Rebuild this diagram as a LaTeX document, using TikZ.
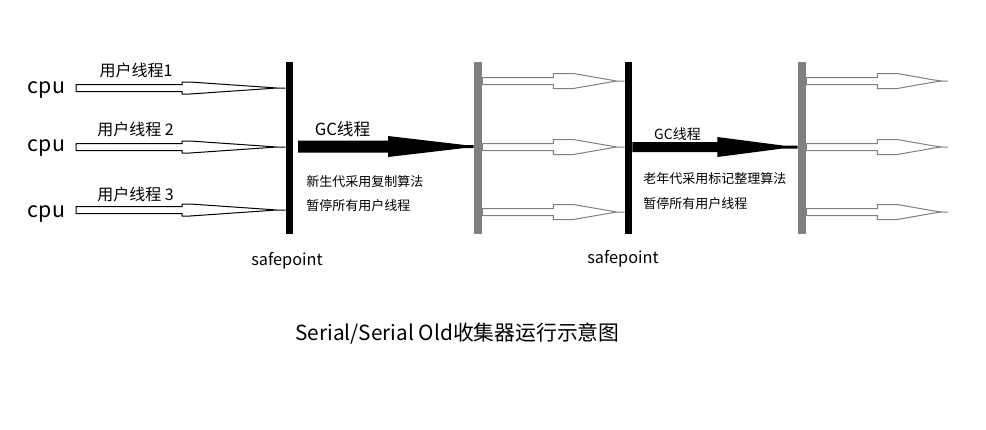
\documentclass[tikz,border=0pt]{standalone}
\usepackage{fontspec}
\setmainfont{Noto Sans CJK SC}
\usetikzlibrary{calc}
\definecolor{bargray}{HTML}{808080}

% #1 style, #2 start, #3 end, #4 head offset, #5 flat length, #6 shaft half, #7 head half, #8 taper end offset, #9 tip offset
\newcommand\hollowarrow[9]{%
  \draw[#1] ($(#2)+(0,-#6)$) -- ($(#2)+(#4,-#6)$) -- ($(#2)+(#4,-#7)$) -- ($(#2)+(#4+#5,-#7)$)
    -- ($(#3)+(-#8,-1.2)$) -- ($(#3)+(-#9,0)$) -- ($(#3)+(-#8,1.2)$)
    -- ($(#2)+(#4+#5,#7)$) -- ($(#2)+(#4,#7)$) -- ($(#2)+(#4,#6)$) -- ($(#2)+(0,#6)$) -- cycle
    ($(#3)+(-#9,0)$) -- (#3);
}
% #1 start, #2 end, #3 head offset, #4 shaft half, #5 head half, #6 taper end offset
\newcommand\gcarrow[6]{%
  \fill ($(#1)+(0,-#4)$) -- ($(#1)+(#3,-#4)$) -- ($(#1)+(#3,-#5)$) -- ($(#2)+(-#6,-1.5)$)
    -- ($(#2)+(0,-1.5)$) -- ($(#2)+(0,1.5)$) -- ($(#2)+(-#6,1.5)$) -- ($(#1)+(#3,#5)$)
    -- ($(#1)+(#3,#4)$) -- ($(#1)+(0,#4)$) -- cycle;
}

\tikzset{
  txt/.style={inner sep=0pt, anchor=base},
  cpulbl/.style={txt, font=\fontsize{16pt}{18pt}\selectfont},
  thr/.style={txt, font=\fontsize{12pt}{14pt}\selectfont},
  gclbl/.style={txt, font=\fontsize{12.5pt}{14pt}\selectfont},
  gclblsmall/.style={txt, font=\fontsize{10.5pt}{12pt}\selectfont},
  note/.style={txt, anchor=base west, font=\fontsize{9.75pt}{12pt}\selectfont},
  sp/.style={txt, font=\fontsize{12.2pt}{14pt}\selectfont},
  ttl/.style={txt, font=\fontsize{15.6pt}{18pt}\selectfont},
  blackbar/.style={draw=none, fill=black, inner sep=0pt, minimum width=5.25pt, minimum height=129pt},
  graybar/.style={draw=none, fill=bargray, inner sep=0pt, minimum width=6pt, minimum height=129pt},
  uthread/.style={draw=black, line width=0.75pt},
  gthread/.style={draw=bargray, line width=0.75pt},
}

\begin{document}
\begin{tikzpicture}[x=0.75pt, y=-0.75pt]
\useasboundingbox (0,0) rectangle (986,429);

% bars (safepoints)
\node[blackbar] (b1) at (289.5,148) {};
\node[graybar]  (b2) at (478,148) {};
\node[blackbar] (b3) at (628.5,148) {};
\node[graybar]  (b4) at (802,148) {};

% cpu labels and starting points
\node[cpulbl] (cpu1) at (46.5,93) {cpu};
\node[cpulbl] (cpu2) at (46.5,151) {cpu};
\node[cpulbl] (cpu3) at (46.5,217) {cpu};
\coordinate (s1) at (76,88);
\coordinate (s2) at (76,147);
\coordinate (s3) at (76,210);

% user threads into first safepoint
\hollowarrow{uthread}{s1}{b1.west |- s1}{106}{8}{3.5}{6}{26}{9}
\hollowarrow{uthread}{s2}{b1.west |- s2}{106}{8}{3.5}{6}{26}{9}
\hollowarrow{uthread}{s3}{b1.west |- s3}{106}{8}{3.5}{6}{26}{9}

\node[thr] (t1) at (136,76) {用户线程1};
\node[thr] (t2) at (135.5,135) {用户线程 2};
\node[thr] (t3) at (135.5,200) {用户线程 3};

% GC thread 1
\coordinate (g1s) at (298,146.5);
\gcarrow{g1s}{b2.west |- g1s}{90}{6}{10.5}{9}
\node[gclbl] (gc1) at (342.5,135) {GC线程};
\node[note] (n1) at (306,186) {新生代采用复制算法};
\node[note] (p1) at (306,210) {暂停所有用户线程};

% user threads between bar2 and bar3
\coordinate (r1) at (b2.east |- 0,81);
\coordinate (r2) at (b2.east |- 0,147);
\coordinate (r3) at (b2.east |- 0,212);
\hollowarrow{gthread}{r1}{b3.west |- r1}{71}{20}{3.5}{7.5}{15}{8}
\hollowarrow{gthread}{r2}{b3.west |- r2}{71}{20}{3.5}{7.5}{15}{8}
\hollowarrow{gthread}{r3}{b3.west |- r3}{71}{20}{3.5}{7.5}{15}{8}

% GC thread 2
\coordinate (g2s) at (b3.east |- 0,147);
\gcarrow{g2s}{b4.west |- g2s}{85}{5}{10}{15}
\node[gclblsmall] (gc2) at (677.5,139) {GC线程};
\node[note] (n2) at (643,183) {老年代采用标记整理算法};
\node[note] (p2) at (643,208) {暂停所有用户线程};

% user threads after bar4
\coordinate (q1) at (b4.east |- 0,81);
\coordinate (q2) at (b4.east |- 0,147);
\coordinate (q3) at (b4.east |- 0,212);
\coordinate (qe1) at (948,81);
\coordinate (qe2) at (948,147);
\coordinate (qe3) at (948,212);
\hollowarrow{gthread}{q1}{qe1}{71}{20}{3.5}{7.5}{15}{6}
\hollowarrow{gthread}{q2}{qe2}{71}{20}{3.5}{7.5}{15}{6}
\hollowarrow{gthread}{q3}{qe3}{71}{20}{3.5}{7.5}{15}{6}

% safepoint labels and title
\node[sp] (sp1) at (287,265) {safepoint};
\node[sp] (sp2) at (623,263) {safepoint};
\node[ttl] (title) at (457.5,340) {Serial/Serial Old收集器运行示意图};
\end{tikzpicture}
\end{document}
